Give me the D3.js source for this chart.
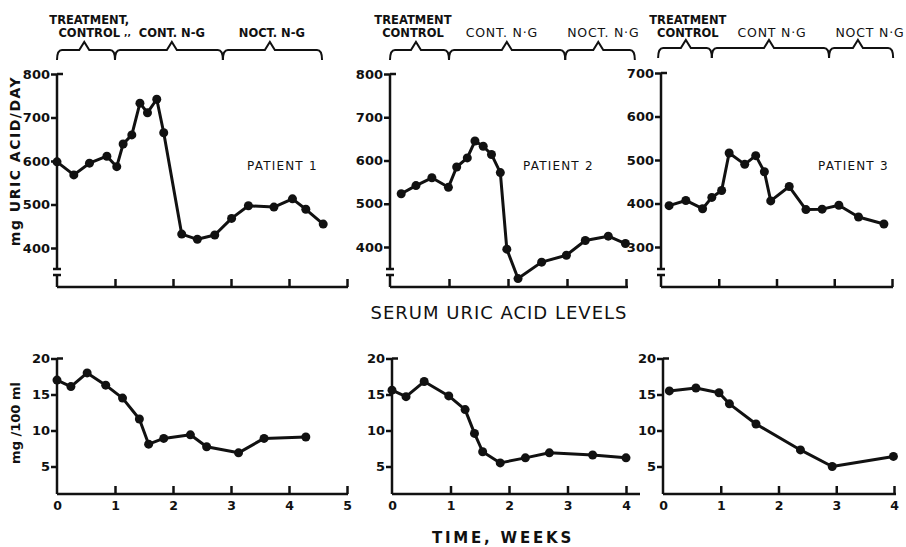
<!DOCTYPE html>
<html>
<head>
<meta charset="utf-8">
<script src="https://cdn.jsdelivr.net/npm/d3@7"></script>
<style>
  body { margin: 0; background: #fff; }
  svg text { font-family: "DejaVu Sans", sans-serif; fill: #111; }
</style>
</head>
<body>
<svg id="chart" width="906" height="547"></svg>
<script>
// urinary uric acid (mg/day) against time in weeks
const urineWeeks1 = [0, 0.29, 0.56, 0.86, 1.03, 1.14, 1.29, 1.43, 1.56, 1.72, 1.84, 2.15, 2.42, 2.72, 3.01, 3.30, 3.74, 4.06, 4.29, 4.59];
const urine1 = [598, 568, 595, 611, 587, 639, 660, 733, 711, 742, 665, 432, 420, 430, 468, 497, 494, 513, 489, 455];
const urineWeeks2 = [0.19, 0.44, 0.71, 0.99, 1.13, 1.31, 1.44, 1.58, 1.72, 1.87, 1.98, 2.17, 2.57, 2.99, 3.31, 3.70, 3.99];
const urine2 = [523, 542, 560, 538, 585, 606, 645, 633, 614, 572, 395, 327, 365, 381, 415, 425, 408];
const urineWeeks3 = [0.14, 0.43, 0.72, 0.88, 1.05, 1.18, 1.45, 1.64, 1.79, 1.90, 2.22, 2.51, 2.79, 3.08, 3.42, 3.86];
const urine3 = [395, 407, 388, 414, 430, 516, 490, 510, 473, 406, 439, 386, 387, 396, 369, 353];

// serum uric acid (mg/100 ml)
const serumWeeks1 = [0, 0.24, 0.52, 0.84, 1.13, 1.42, 1.58, 1.84, 2.30, 2.58, 3.13, 3.57, 4.29];
const serum1 = [17.0, 16.1, 18.0, 16.3, 14.5, 11.6, 8.1, 8.9, 9.4, 7.75, 6.9, 8.9, 9.1];
const serumWeeks2 = [0, 0.24, 0.55, 0.97, 1.25, 1.41, 1.55, 1.85, 2.28, 2.69, 3.43, 4.0];
const serum2 = [15.6, 14.7, 16.8, 14.8, 12.9, 9.6, 7.05, 5.5, 6.2, 6.9, 6.6, 6.2];
const serumWeeks3 = [0.11, 0.57, 0.97, 1.15, 1.61, 2.38, 2.93, 3.99];
const serum3 = [15.5, 15.9, 15.25, 13.7, 10.9, 7.3, 5.0, 6.4];

// treatment phases: start, bracket point, end (weeks)
const phases1 = [[0, 0.47, 1.0], [1.0, 1.98, 2.86], [2.86, 3.67, 4.57]];
const phases2 = [[0, 0.44, 1.0], [1.0, 1.98, 2.97], [2.97, 3.53, 4.15]];
const phases3 = [[-0.05, 0.43, 0.88], [0.88, 1.87, 2.91], [2.91, 3.41, 4.02]];
const phaseNames1 = [["TREATMENT,", "CONTROL"], ["CONT. N-G"], ["NOCT. N-G"]];
const phaseNames2 = [["TREATMENT", "CONTROL"], ["CONT. N·G"], ["NOCT. N·G"]];
const phaseNames3 = [["TREATMENT", "CONTROL"], ["CONT N·G"], ["NOCT N·G"]];

const patients = ["PATIENT 1", "PATIENT 2", "PATIENT 3"];
const urineTicks1 = [400, 500, 600, 700, 800];
const urineTicks3 = [300, 400, 500, 600, 700];
const serumTicks = [5, 10, 15, 20];

const ink = "#111";
const svg = d3.select("#chart");

const panels = [
  { uw: urineWeeks1, u: urine1, sw: serumWeeks1, s: serum1, ph: phases1, names: phaseNames1,
    weeks: 5, topX: [57, 347], topEnd: 348, uDomain: [400, 800], uRange: [248, 74], uTicks: urineTicks1,
    botX: [57, 347], botEnd: 348, bracketY: 50, labelDx: [5, 0, 2], bold: [true, true, true],
    patientX: 247 },
  { uw: urineWeeks2, u: urine2, sw: serumWeeks2, s: serum2, ph: phases2, names: phaseNames2,
    weeks: 4, topX: [390, 626], topEnd: 628, uDomain: [400, 800], uRange: [247, 74], uTicks: urineTicks1,
    botX: [392, 626], botEnd: 640, bracketY: 50, labelDx: [-3, -5, 5], bold: [true, false, false],
    patientX: 523 },
  { uw: urineWeeks3, u: urine3, sw: serumWeeks3, s: serum3, ph: phases3, names: phaseNames3,
    weeks: 4, topX: [661, 892], topEnd: 893, uDomain: [300, 700], uRange: [247, 73], uTicks: urineTicks3,
    botX: [663, 894], botEnd: 896, bracketY: 48, labelDx: [2, 3, 12], bold: [true, false, false],
    patientX: 818 }
];

function styleAxis(g, size) {
  g.selectAll("line").attr("stroke", ink).attr("stroke-width", 2.5);
  g.selectAll("text").attr("font-family", "DejaVu Sans, sans-serif")
    .attr("font-weight", "bold").attr("font-size", size).attr("fill", ink);
}

function bracketPath(x, p, yl) {
  const a = x(p[0]), m = x(p[1]), b = x(p[2]);
  return `M${a},${yl + 10} Q${a},${yl} ${a + 5},${yl} L${m - 5},${yl} L${m},${yl - 8} ` +
         `L${m + 5},${yl} L${b - 5},${yl} Q${b},${yl} ${b},${yl + 10}`;
}

panels.forEach((c, i) => {
  const g = svg.append("g");

  // ---- urine panel ----
  const x = d3.scaleLinear().domain([0, c.weeks]).range(c.topX);
  const y = d3.scaleLinear().domain(c.uDomain).range(c.uRange);
  const x0 = c.topX[0];

  const ya = g.append("g").attr("transform", `translate(${x0},0)`)
    .call(d3.axisLeft(y).tickValues(c.uTicks).tickSize(6).tickSizeOuter(0).tickPadding(1));
  ya.select(".domain").remove();
  styleAxis(ya, 13);

  const axisLines = [
    [x0, y(c.uDomain[1]), x0, 269],           // y axis down to break
    [x0, y(c.uDomain[1]), x0 + 6, y(c.uDomain[1])],
    [x0 - 4, 269, x0 + 4, 269],
    [x0 - 4, 275, x0 + 4, 275],
    [x0, 275, x0, 287],
    [x0, 287, c.topEnd, 287]
  ];
  g.selectAll(null).data(axisLines).join("line")
    .attr("x1", d => d[0]).attr("y1", d => d[1]).attr("x2", d => d[2]).attr("y2", d => d[3])
    .attr("stroke", ink).attr("stroke-width", 2.5);

  const xa = g.append("g").attr("transform", "translate(0,287)")
    .call(d3.axisBottom(x).ticks(c.weeks).tickSize(-8).tickSizeOuter(0).tickFormat(""));
  xa.select(".domain").remove();
  xa.selectAll(".tick").filter(d => d === 0).remove();
  styleAxis(xa, 12);

  const line = d3.line().x(d => x(d[0])).y(d => y(d[1]));
  const upts = d3.zip(c.uw, c.u);
  g.append("path").attr("d", line(upts)).attr("fill", "none")
    .attr("stroke", ink).attr("stroke-width", 3).attr("stroke-linejoin", "round");
  g.selectAll(null).data(upts).join("circle")
    .attr("cx", d => x(d[0])).attr("cy", d => y(d[1])).attr("r", 4.5).attr("fill", ink);

  // phase brackets
  g.selectAll(null).data(c.ph).join("path")
    .attr("d", p => bracketPath(x, p, c.bracketY))
    .attr("fill", "none").attr("stroke", ink).attr("stroke-width", 2);

  c.names.forEach((lines, j) => {
    const cx = x(c.ph[j][1]) + c.labelDx[j];
    const b = c.bold[j];
    const t = g.append("text").attr("text-anchor", "middle")
      .attr("font-size", b ? 11.5 : 12.5).attr("font-weight", b ? "bold" : "normal")
      .attr("letter-spacing", b ? 0 : 0.8);
    lines.forEach((s, k) => {
      t.append("tspan").attr("x", cx).attr("y", lines.length === 2 ? 24 + k * 13 : 37).text(s);
    });
  });
  if (i === 0) {
    g.append("text").attr("x", 124).attr("y", 36).attr("font-size", 9)
      .attr("font-weight", "bold").text(",,");
  }

  g.append("text").attr("x", c.patientX).attr("y", 170)
    .attr("font-size", 12).attr("letter-spacing", 1.2).text(patients[i]);

  // ---- serum panel ----
  const xs = d3.scaleLinear().domain([0, c.weeks]).range(c.botX);
  const ys = d3.scaleLinear().domain([5, 20]).range([466.5, 358.5]);
  const b0 = c.botX[0];

  const ysa = g.append("g").attr("transform", `translate(${b0},0)`)
    .call(d3.axisLeft(ys).tickValues(serumTicks).tickSize(6).tickSizeOuter(0).tickPadding(1));
  ysa.select(".domain").remove();
  styleAxis(ysa, 13);

  const serumLines = [
    [b0, ys(20), b0, 494],
    [b0, ys(20), b0 + 6, ys(20)],
    [b0, 494, c.botEnd, 494]
  ];
  g.selectAll(null).data(serumLines).join("line")
    .attr("x1", d => d[0]).attr("y1", d => d[1]).attr("x2", d => d[2]).attr("y2", d => d[3])
    .attr("stroke", ink).attr("stroke-width", 2.5);

  const xsa = g.append("g").attr("transform", "translate(0,494)")
    .call(d3.axisBottom(xs).ticks(c.weeks).tickSize(-8).tickSizeOuter(0).tickPadding(7).tickFormat(d3.format("d")));
  xsa.select(".domain").remove();
  xsa.selectAll(".tick").filter(d => d === 0).select("line").remove();
  styleAxis(xsa, 12.5);

  const sline = d3.line().x(d => xs(d[0])).y(d => ys(d[1]));
  const spts = d3.zip(c.sw, c.s);
  g.append("path").attr("d", sline(spts)).attr("fill", "none")
    .attr("stroke", ink).attr("stroke-width", 3).attr("stroke-linejoin", "round");
  g.selectAll(null).data(spts).join("circle")
    .attr("cx", d => xs(d[0])).attr("cy", d => ys(d[1])).attr("r", 4.5).attr("fill", ink);
});

// axis titles
svg.append("text").attr("transform", "translate(20,161) rotate(-90)")
  .attr("text-anchor", "middle").attr("font-size", 14).attr("font-weight", "bold")
  .attr("letter-spacing", 1.5).text("mg URIC ACID/DAY");
svg.append("text").attr("transform", "translate(20,423) rotate(-90)")
  .attr("text-anchor", "middle").attr("font-size", 13).attr("font-weight", "bold")
  .text("mg /100 ml");
svg.append("text").attr("x", 499).attr("y", 319).attr("text-anchor", "middle")
  .attr("font-size", 18).attr("letter-spacing", 1).text("SERUM URIC ACID LEVELS");
svg.append("text").attr("x", 503).attr("y", 543).attr("text-anchor", "middle")
  .attr("font-size", 15).attr("font-weight", "bold").attr("letter-spacing", 2.8).text("TIME, WEEKS");
</script>
</body>
</html>
